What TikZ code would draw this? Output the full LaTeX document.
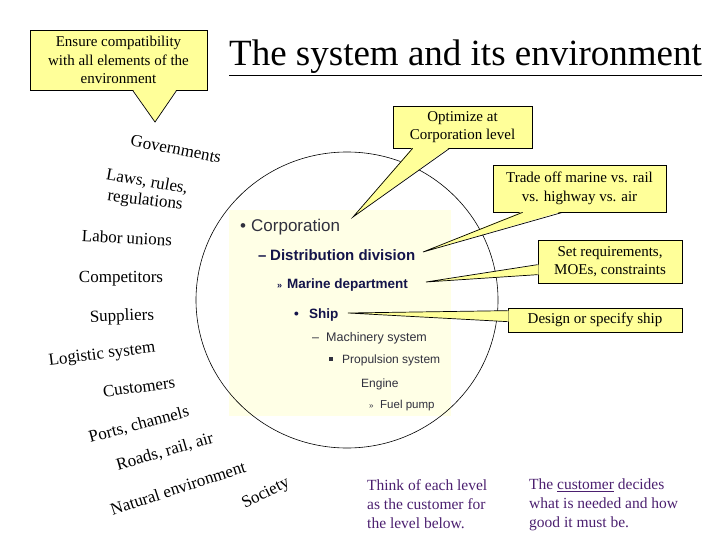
\documentclass[tikz,border=0pt]{standalone}
\usepackage{fontspec}
\setmainfont{Liberation Serif}
\setsansfont{Liberation Sans}
\usetikzlibrary{calc}
\definecolor{calloutyellow}{HTML}{FFFF99}
\definecolor{systemcream}{HTML}{FFFFE6}
\definecolor{notepurple}{HTML}{4B1F6F}
\definecolor{levelnavy}{HTML}{14144A}
\definecolor{levelgray}{HTML}{30303E}

\tikzset{
  callout/.style={draw=black, line width=0.7pt, fill=calloutyellow, align=center, inner sep=0pt, font=\fontsize{15}{18.5}\selectfont},
  pointerfill/.style={fill=calloutyellow},
  pointerline/.style={draw=black, line width=0.7pt},
  envlabel/.style={inner sep=0pt, font=\fontsize{17}{20}\selectfont},
  level/.style={anchor=base west, inner sep=0pt},
  note/.style={anchor=north west, align=left, inner sep=0pt, text=notepurple, font=\fontsize{15.5}{19}\selectfont},
}

\begin{document}
\begin{tikzpicture}[x=1pt, y=-1pt]
    \useasboundingbox (0,0) rectangle (720,540);

    % Title
    \node[anchor=base west, inner sep=0pt, font=\fontsize{37}{40}\selectfont] (title) at (229,66) {\underline{The system and its environment}};

    % The system: levels inside the circle
    \fill[systemcream] (229,210) rectangle (451,416);
    \draw[line width=0.6pt] (347,300) ellipse [x radius=151, y radius=148];

    \node[level, text=levelgray, font=\sffamily\fontsize{17}{20}\selectfont] (corp) at (240,232) {\makebox[11pt][l]{\textbullet}Corporation};
    \node[level, text=levelnavy, font=\sffamily\bfseries\fontsize{15}{18}\selectfont] (dist) at (258,260) {\makebox[12pt][l]{--}Distribution division};
    \node[level, text=levelnavy, font=\sffamily\bfseries\fontsize{13.5}{16}\selectfont] (marine) at (277,288) {\makebox[10pt][l]{\fontsize{9}{10}\selectfont\guillemotright}Marine department};
    \node[level, text=levelnavy, font=\sffamily\bfseries\fontsize{13.5}{16}\selectfont] (ship) at (294,318) {\makebox[15pt][l]{\textbullet}Ship};
    \node[level, text=levelgray, font=\sffamily\fontsize{12.5}{15}\selectfont] (mach) at (312,341) {\makebox[14pt][l]{--}Machinery system};
    \node[level, text=levelgray, font=\sffamily\fontsize{12}{14}\selectfont] (prop) at (329,363) {\makebox[13pt][l]{\rule[2.5pt]{3.5pt}{3.5pt}}Propulsion system};
    \node[level, text=levelgray, font=\sffamily\fontsize{12}{14}\selectfont] (engine) at (361,387) {Engine};
    \node[level, text=levelgray, font=\sffamily\fontsize{11.5}{14}\selectfont] (fuel) at (369,408) {\makebox[11pt][l]{\fontsize{8}{9}\selectfont\guillemotright}Fuel pump};

    % The environment
    \node[envlabel, rotate=-11] (gov) at (176,149) {Governments};
    \node[envlabel, rotate=-10] (laws) at (147,182) {Laws, rules,};
    \node[envlabel, rotate=-7] (regs) at (145,201) {regulations};
    \node[envlabel, rotate=-3] (labor) at (127,238) {Labor unions};
    \node[envlabel] (comp) at (121,279) {Competitors};
    \node[envlabel, rotate=2] (supp) at (122,317) {Suppliers};
    \node[envlabel, rotate=7] (logi) at (102,355) {Logistic system};
    \node[envlabel, rotate=8] (cust) at (139,387) {Customers};
    \node[envlabel, rotate=15] (ports) at (139,425) {Ports, channels};
    \node[envlabel, rotate=16] (roads) at (165,452) {Roads, rail, air};
    \node[envlabel, rotate=18] (nat) at (178,488) {Natural environment};
    \node[envlabel, rotate=27] (soc) at (266,494) {Society};

    % Callouts
    \node[callout, minimum width=177pt, minimum height=60pt] (ensure) at (118.5,60) {Ensure compatibility\\with all elements of the\\environment};
    \node[callout, minimum width=139pt, minimum height=42pt] (optim) at (462.5,127) {Optimize at\\Corporation level};
    \node[callout, minimum width=173pt, minimum height=47pt] (trade) at (579.5,188.5) {Trade off marine vs. rail\\vs. highway vs. air};
    \node[callout, minimum width=144pt, minimum height=43pt] (setreq) at (610,261.5) {Set requirements,\\MOEs, constraints};
    \node[callout, minimum width=174pt, minimum height=24pt] (design) at (595,320) {Design or specify ship};

    \coordinate (govtip) at (155,122);
    \coordinate (corptip) at (353,217);
    \coordinate (disttip) at (423,252);
    \coordinate (marinetip) at (426,282);
    \coordinate (shiptip) at (348,313);

    % Callout pointers
    \fill[pointerfill] ($(ensure.south west)+(103,-1)$) -- (govtip) -- ($(ensure.south west)+(147,-1)$) -- cycle;
    \draw[pointerline] ($(ensure.south west)+(103,0)$) -- (govtip) -- ($(ensure.south west)+(147,0)$);
    \fill[pointerfill] ($(optim.south west)+(20,-1)$) -- (corptip) -- ($(optim.south west)+(57,-1)$) -- cycle;
    \draw[pointerline] ($(optim.south west)+(20,0)$) -- (corptip) -- ($(optim.south west)+(57,0)$);
    \fill[pointerfill] ($(trade.south west)+(30,-1)$) -- (disttip) -- ($(trade.south west)+(70,-1)$) -- cycle;
    \draw[pointerline] ($(trade.south west)+(30,0)$) -- (disttip) -- ($(trade.south west)+(70,0)$);
    \fill[pointerfill] ($(setreq.north west)+(1,25)$) -- (marinetip) -- ($(setreq.north west)+(1,35)$) -- cycle;
    \draw[pointerline] ($(setreq.north west)+(0,25)$) -- (marinetip) -- ($(setreq.north west)+(0,35)$);
    \fill[pointerfill] ($(design.north west)+(1,3)$) -- (shiptip) -- ($(design.north west)+(1,14)$) -- cycle;
    \draw[pointerline] ($(design.north west)+(0,3)$) -- (shiptip) -- ($(design.north west)+(0,14)$);

    % Notes
    \node[note] (think) at (367,479) {Think of each level\\as the customer for\\the level below.};
    \node[note] (decides) at (529,479) {The \underline{customer} decides\\what is needed and how\\good it must be.};
\end{tikzpicture}
\end{document}
